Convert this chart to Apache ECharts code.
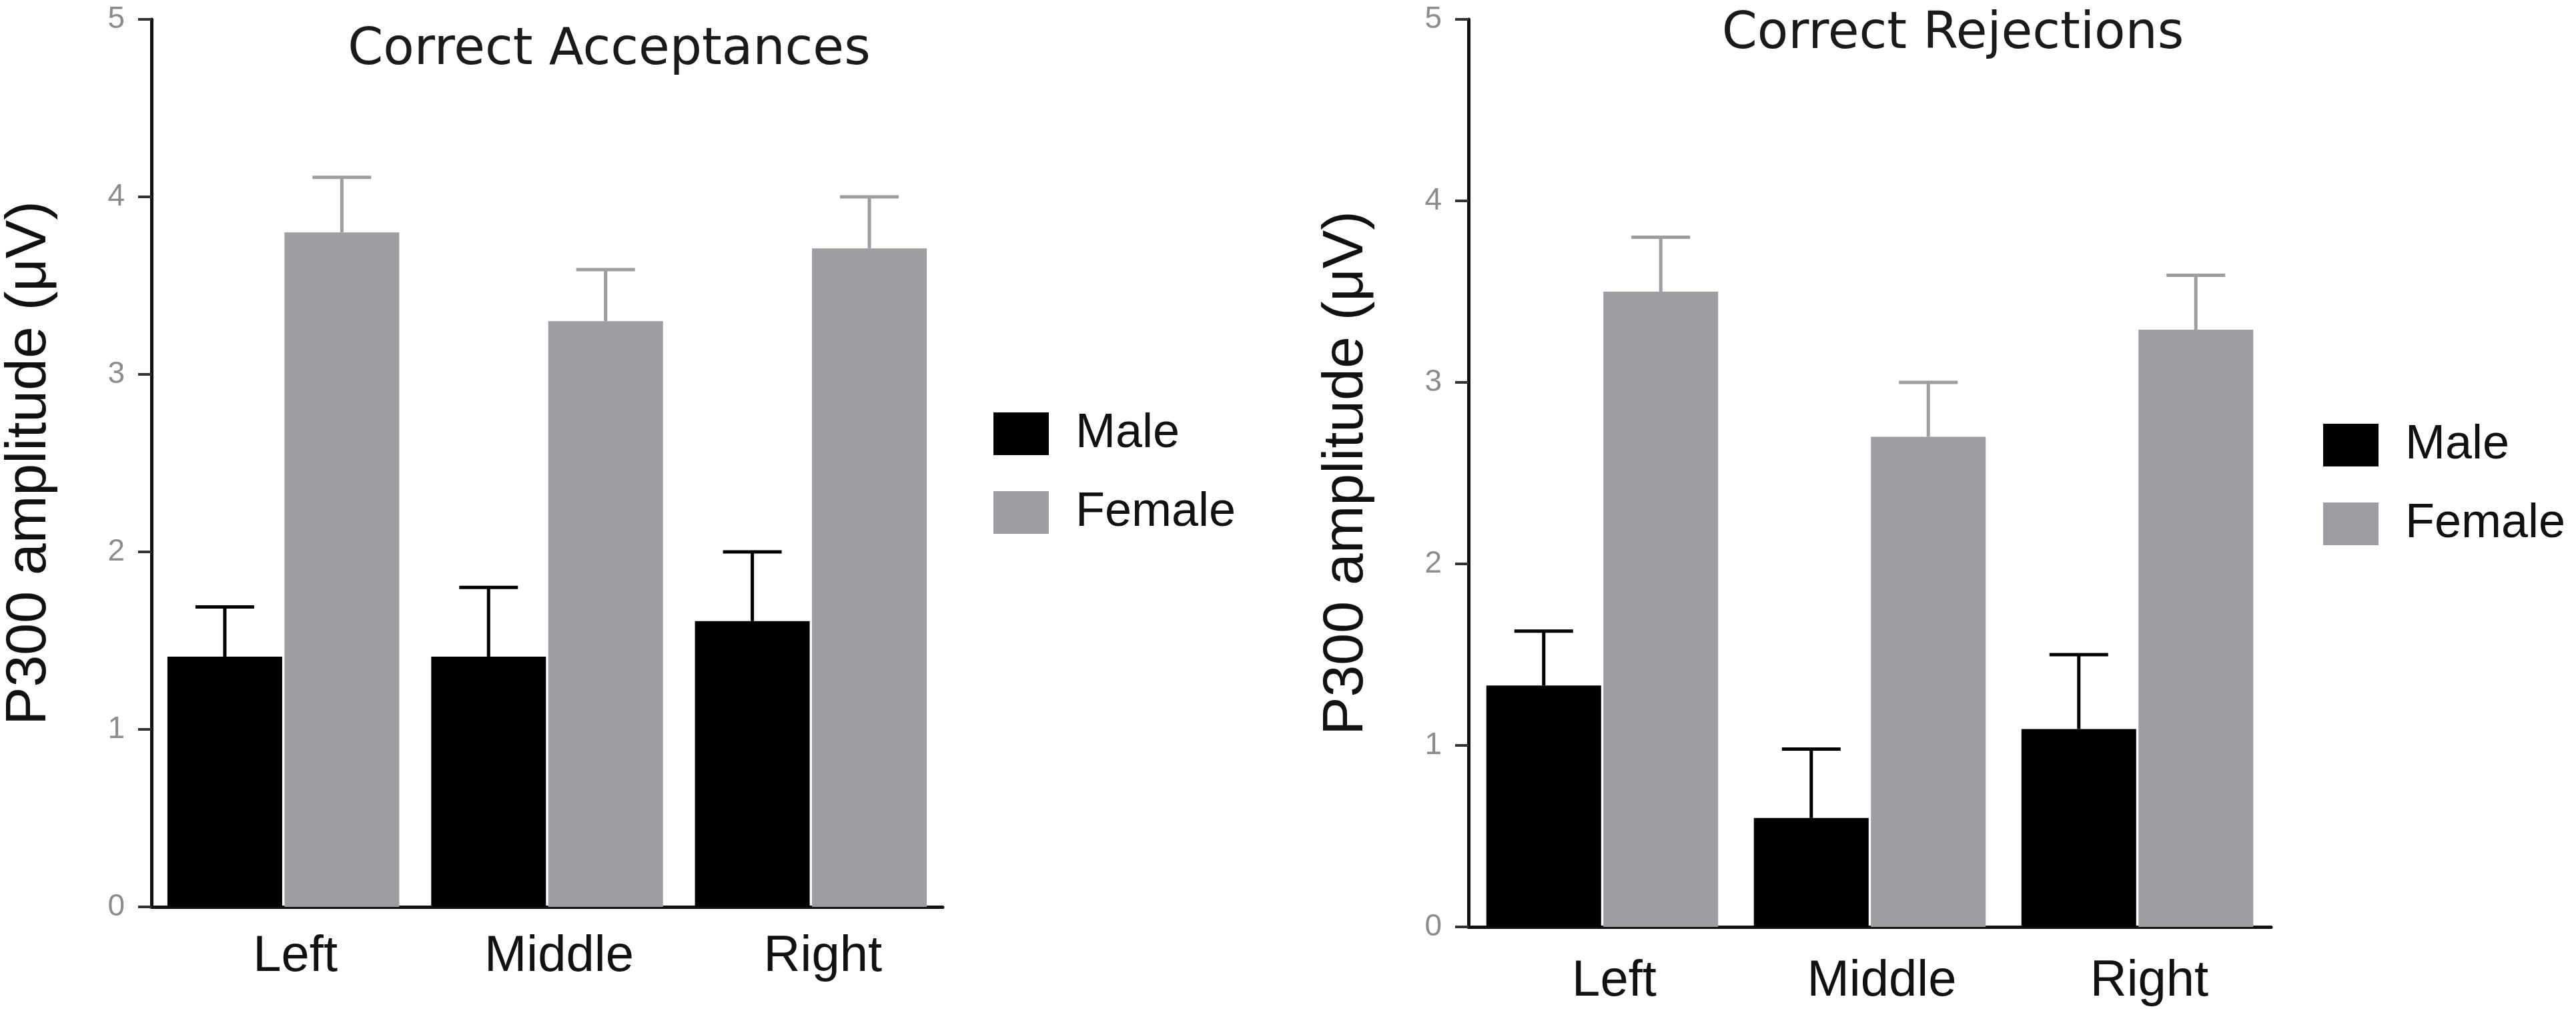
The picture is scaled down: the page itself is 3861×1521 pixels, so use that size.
<!DOCTYPE html>
<html>
<head>
<meta charset="utf-8">
<script src="https://cdn.jsdelivr.net/npm/echarts@6/dist/echarts.min.js"></script>
<style>
html,body{margin:0;padding:0;background:#fff;}
#chart{width:3861px;height:1521px;}
</style>
</head>
<body>
<div id="chart"></div>
<script>
// ---- data ----
const categories = ['Left', 'Middle', 'Right'];
const yTicks = [0, 1, 2, 3, 4, 5];
const seriesNames = ['Male', 'Female'];
const panelTitles = ['Correct Acceptances', 'Correct Rejections'];
const yAxisTitle = 'P300 amplitude (\u03bcV)';

// Correct Acceptances
const accMale = [1.41, 1.41, 1.61];
const accMaleUpper = [1.69, 1.80, 2.00];
const accFemale = [3.80, 3.30, 3.71];
const accFemaleUpper = [4.11, 3.59, 4.00];

// Correct Rejections
const rejMale = [1.33, 0.60, 1.09];
const rejMaleUpper = [1.63, 0.98, 1.50];
const rejFemale = [3.50, 2.70, 3.29];
const rejFemaleUpper = [3.80, 3.00, 3.59];

// ---- styling ----
const MALE_COLOR = '#000000';
const FEMALE_COLOR = '#9e9da2';
const BAR_W = 172;
const BAR_GAP_PCT = 2;
const BAR_OFFSET = (BAR_W + BAR_W * BAR_GAP_PCT / 100) / 2;
const CAP = 44;
const REG = "'Liberation Sans', Arial, sans-serif";

function errData(vals, uppers) {
  return vals.map((v, i) => [i, v, uppers[i]]);
}

function errRender(sign, color) {
  return function (params, api) {
    const x = api.value(0), v = api.value(1), hi = api.value(2);
    const p0 = api.coord([x, v]);
    const p1 = api.coord([x, hi]);
    const cx = p0[0] + sign * BAR_OFFSET;
    return {
      type: 'group',
      children: [
        { type: 'line', shape: { x1: cx, y1: p0[1], x2: cx, y2: p1[1] }, style: { stroke: color, lineWidth: 5 } },
        { type: 'line', shape: { x1: cx - CAP, y1: p1[1], x2: cx + CAP, y2: p1[1] }, style: { stroke: color, lineWidth: 5 } }
      ]
    };
  };
}

const grids = [
  { left: 225, width: 1188, top: 29, height: 1330 },
  { left: 2201, width: 1203, top: 29, height: 1360 }
];

function xAxis(gi, labelMargin) {
  return {
    type: 'category', gridIndex: gi, data: categories,
    axisLine: { lineStyle: { color: '#111', width: 5 } },
    axisTick: { show: false },
    axisLabel: { margin: labelMargin, fontFamily: REG, fontSize: 76, color: '#111', padding: [0, 0, 0, 36] }
  };
}
function yAxis(gi, nameGap) {
  return {
    type: 'value', gridIndex: gi, min: yTicks[0], max: yTicks[yTicks.length - 1], interval: 1,
    name: yAxisTitle, nameLocation: 'middle', nameGap: nameGap,
    nameTextStyle: { fontFamily: REG, fontSize: 86, color: '#111' },
    axisLine: { show: true, lineStyle: { color: '#111', width: 5 } },
    axisTick: { show: true, length: 20, lineStyle: { color: '#333', width: 4 } },
    axisLabel: { margin: 40, fontFamily: REG, fontSize: 46, color: '#8c8c8c' },
    splitLine: { show: false }
  };
}

function barSeries(name, gi, data, color) {
  return {
    type: 'bar', name: name, xAxisIndex: gi, yAxisIndex: gi, data: data,
    barWidth: BAR_W, barGap: BAR_GAP_PCT + '%',
    itemStyle: { color: color }, z: 2
  };
}
function errSeries(name, gi, vals, uppers, sign, color) {
  return {
    type: 'custom', name: name, xAxisIndex: gi, yAxisIndex: gi,
    data: errData(vals, uppers), renderItem: errRender(sign, color), z: 3, silent: true
  };
}

function legend(left, top) {
  return {
    data: seriesNames, orient: 'vertical', left: left, top: top, padding: 0,
    icon: 'rect', itemWidth: 83, itemHeight: 64, itemGap: 46,
    textStyle: { fontFamily: REG, fontSize: 72, color: '#111', padding: [0, 0, 0, 35] }
  };
}

const option = {
  backgroundColor: '#fff',
  animation: false,
  title: [
    { text: panelTitles[0], left: 913, top: 38, textAlign: 'center', padding: 0,
      textStyle: { fontFamily: 'DejaVu Sans', fontWeight: 'normal', fontSize: 76, color: '#1a1a1a' } },
    { text: panelTitles[1], left: 2927, top: 14, textAlign: 'center', padding: 0,
      textStyle: { fontFamily: 'DejaVu Sans', fontWeight: 'normal', fontSize: 76, color: '#1a1a1a' } }
  ],
  legend: [legend(1489, 614), legend(3482, 631)],
  grid: grids,
  xAxis: [xAxis(0, 37), xAxis(1, 44)],
  yAxis: [yAxis(0, 140), yAxis(1, 140)],
  series: [
    barSeries(seriesNames[0], 0, accMale, MALE_COLOR),
    barSeries(seriesNames[1], 0, accFemale, FEMALE_COLOR),
    errSeries('Male SEM', 0, accMale, accMaleUpper, -1, MALE_COLOR),
    errSeries('Female SEM', 0, accFemale, accFemaleUpper, 1, FEMALE_COLOR),
    barSeries(seriesNames[0], 1, rejMale, MALE_COLOR),
    barSeries(seriesNames[1], 1, rejFemale, FEMALE_COLOR),
    errSeries('Male SEM', 1, rejMale, rejMaleUpper, -1, MALE_COLOR),
    errSeries('Female SEM', 1, rejFemale, rejFemaleUpper, 1, FEMALE_COLOR)
  ]
};

const chart = echarts.init(document.getElementById('chart'), null, { renderer: 'canvas' });
chart.setOption(option);
</script>
</body>
</html>
